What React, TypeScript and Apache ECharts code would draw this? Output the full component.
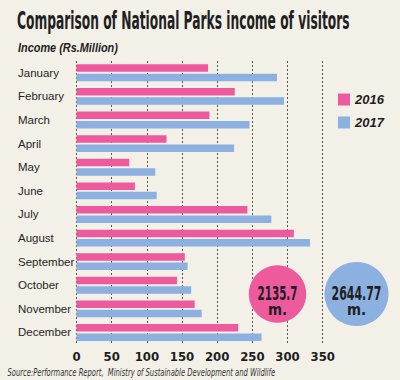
import React, { useEffect, useRef } from "react";
import * as echarts from "echarts";

const months = ["January", "February", "March", "April", "May", "June", "July", "August", "September", "October", "November", "December"];
const income2016 = [187, 225, 189, 128, 75, 83, 243, 309, 154, 143, 168, 230];
const income2017 = [285, 295, 246, 224, 112, 114, 277, 332, 158, 163, 178, 263];
const seriesNames = ["2016", "2017"];
const totals = ["2135.7", "2644.77"];
const xTicks = [0, 350, 50];

const titleText = "Comparison of National Parks income of visitors";
const subtitleText = "Income (Rs.Million)";
const sourceText = "Source:Performance Report,  Ministry of Sustainable Development and Wildlife";

const NARROW = "'Liberation Sans Narrow', 'DejaVu Sans Condensed', 'Roboto', sans-serif";
const SANS = "'Liberation Sans', Arial, sans-serif";
const PINK = "#ee5a9e";
const BLUE = "#8cb1e0";
const BG = "#f3f0e8";
const INK = "#1f1f1f";

function textWidth(text: string, font: string): number {
  const ctx = document.createElement("canvas").getContext("2d");
  if (!ctx) return text.length * 8;
  ctx.font = font;
  return ctx.measureText(text).width;
}

function fitText(text: string, font: string, width: number, x: number, y: number, align: string, color: string) {
  const w = textWidth(text, font);
  const s = w > 0 ? width / w : 1;
  return {
    type: "text",
    x,
    y,
    scaleX: s,
    silent: true,
    z: 100,
    style: { text, font, fill: color, textAlign: align, textVerticalAlign: "middle" },
  };
}

export default function App() {
  const ref = useRef<HTMLDivElement>(null);
  useEffect(() => {
    document.body.style.margin = "0";
    document.body.style.background = BG;
    if (!ref.current) return;
    const chart = echarts.init(ref.current, undefined, { renderer: "svg" });
    const titleFont = `bold 24px ${NARROW}`;
    const subFont = `italic bold 12px ${SANS}`;
    const srcFont = `italic 10px ${NARROW}`;
    const bigFont = `bold 20px ${NARROW}`;
    const mFont = `bold 15px ${NARROW}`;
    chart.setOption({
      animation: false,
      backgroundColor: BG,
      grid: { left: 76.5, right: 77.3, top: 61, bottom: 35.7, containLabel: false },
      legend: {
        orient: "vertical",
        left: 333,
        top: 88,
        itemWidth: 12,
        itemHeight: 12,
        itemGap: 10,
        icon: "rect",
        data: seriesNames,
        textStyle: { fontFamily: SANS, fontStyle: "italic", fontWeight: "bold", fontSize: 13, color: INK },
      },
      xAxis: {
        type: "value",
        min: xTicks[0],
        max: xTicks[1],
        interval: xTicks[2],
        axisLine: { show: false },
        axisTick: { show: false },
        axisLabel: { margin: 6, fontFamily: NARROW, fontWeight: "bold", fontSize: 13, color: INK },
        splitLine: { show: true, lineStyle: { type: [2, 2], color: "#555", width: 1 } },
      },
      yAxis: {
        type: "category",
        inverse: true,
        data: months,
        axisLine: { show: false },
        axisTick: { show: false },
        axisLabel: { align: "left", margin: 58.5, fontFamily: SANS, fontSize: 11.5, color: INK, verticalAlign: "middle", padding: [0, 0, 3, 0] },
      },
      series: [
        { name: seriesNames[0], type: "bar", data: income2016, barWidth: 7.5, barGap: "25%", itemStyle: { color: PINK } },
        { name: seriesNames[1], type: "bar", data: income2017, barWidth: 7.5, barGap: "25%", itemStyle: { color: BLUE } },
      ],
      graphic: [
        fitText(titleText, titleFont, 333, 17, 21.5, "left", INK),
        fitText(subtitleText, subFont, 100, 18, 48, "left", INK),
        fitText(sourceText, srcFont, 268, 7.5, 372.5, "left", "#333"),
        { type: "circle", shape: { cx: 277.5, cy: 294, r: 28.7 }, style: { fill: PINK }, z: 90 },
        { type: "circle", shape: { cx: 356.5, cy: 294, r: 32 }, style: { fill: BLUE }, z: 90 },
        fitText(totals[0], bigFont, 40, 277.5, 293, "center", INK),
        { type: "text", x: 277.5, y: 309.5, z: 100, style: { text: "m.", font: mFont, fill: INK, textAlign: "center", textVerticalAlign: "middle" } },
        fitText(totals[1], bigFont, 50, 356.5, 293, "center", INK),
        { type: "text", x: 356.5, y: 309.5, z: 100, style: { text: "m.", font: mFont, fill: INK, textAlign: "center", textVerticalAlign: "middle" } },
      ],
    });
    return () => chart.dispose();
  }, []);
  return <div ref={ref} style={{ width: 400, height: 380 }} />;
}
